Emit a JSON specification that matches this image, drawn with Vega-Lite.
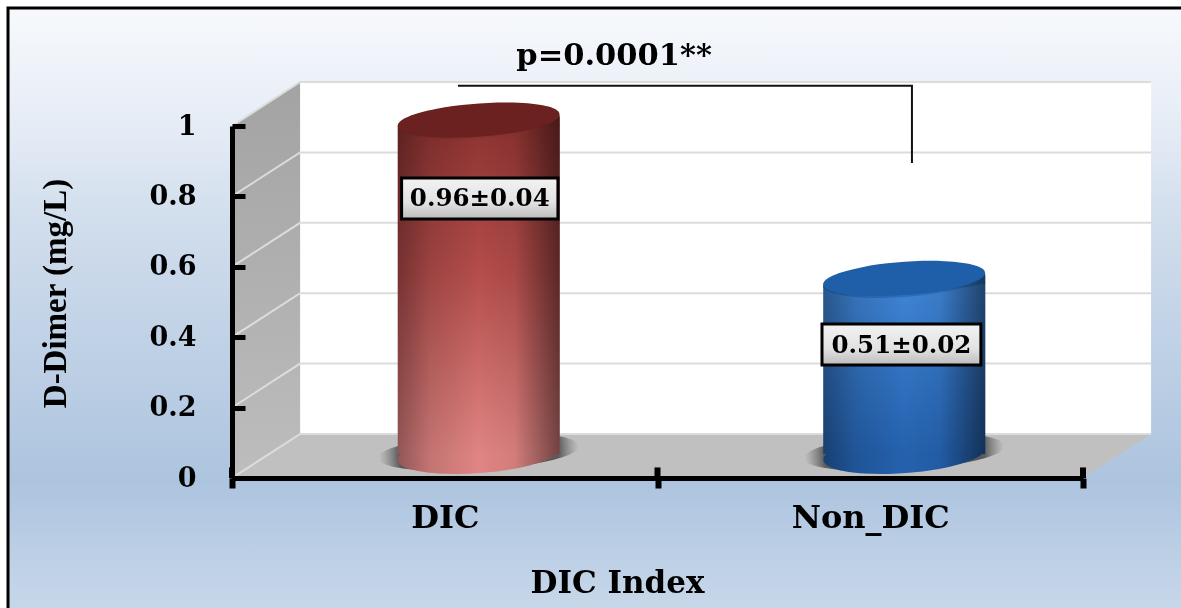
{
  "$schema": "https://vega.github.io/schema/vega-lite/v6.json",
  "width": 851,
  "height": 352,
  "autosize": "none",
  "padding": {"left": 232, "top": 126, "right": 98, "bottom": 130},
  "background": "white",
  "config": {"view": {"stroke": null}, "text": {"font": "DejaVu Serif", "fontWeight": "bold", "color": "black"}},
  "datasets": {
    "bars": [
      {"group": "DIC", "value": 0.96, "label": "0.96±0.04"},
      {"group": "Non_DIC", "value": 0.51, "label": "0.51±0.02"}
    ],
    "sideWall": [
      {"pos": 0, "low": 0, "high": 1},
      {"pos": 0.16, "low": 0.125, "high": 1.125}
    ],
    "floor": [
      {"pos": 0, "low": 0, "high": 0},
      {"pos": 0.16, "low": 0, "high": 0.125},
      {"pos": 2, "low": 0, "high": 0.125},
      {"pos": 2.16, "low": 0.125, "high": 0.125}
    ],
    "grid": [
      {"level": 0, "pos": 0, "y": 0}, {"level": 0, "pos": 0.16, "y": 0.125}, {"level": 0, "pos": 2.16, "y": 0.125},
      {"level": 0.2, "pos": 0, "y": 0.2}, {"level": 0.2, "pos": 0.16, "y": 0.325}, {"level": 0.2, "pos": 2.16, "y": 0.325},
      {"level": 0.4, "pos": 0, "y": 0.4}, {"level": 0.4, "pos": 0.16, "y": 0.525}, {"level": 0.4, "pos": 2.16, "y": 0.525},
      {"level": 0.6, "pos": 0, "y": 0.6}, {"level": 0.6, "pos": 0.16, "y": 0.725}, {"level": 0.6, "pos": 2.16, "y": 0.725},
      {"level": 0.8, "pos": 0, "y": 0.8}, {"level": 0.8, "pos": 0.16, "y": 0.925}, {"level": 0.8, "pos": 2.16, "y": 0.925},
      {"level": 1, "pos": 0, "y": 1}, {"level": 1, "pos": 0.16, "y": 1.125}, {"level": 1, "pos": 2.16, "y": 1.125}
    ],
    "bracket": [
      {"pos": 0.531, "y": 1.114},
      {"pos": 1.598, "y": 1.114},
      {"pos": 1.598, "y": 0.895}
    ],
    "crossTicks": [{"pos": 0}, {"pos": 1}, {"pos": 2}]
  },
  "resolve": {"scale": {"x": "independent", "color": "independent"}, "axis": {"y": "independent"}},
  "layer": [
    {
      "description": "Chart-area panel with its frame",
      "data": {"values": [{}]},
      "mark": {"type": "rect", "stroke": "black", "strokeWidth": 3, "fill": {"gradient": "linear", "x1": 0, "y1": 0, "x2": 0, "y2": 1, "stops": [
        {"offset": 0, "color": "#f7f9fc"}, {"offset": 0.17, "color": "#e8eef7"}, {"offset": 0.36, "color": "#d0ddec"}, {"offset": 0.78, "color": "#adc4df"}, {"offset": 1, "color": "#c8d8ea"}
      ]}},
      "encoding": {
        "x": {"datum": -0.5264, "type": "quantitative", "scale": {"domain": [0, 2], "nice": false, "zero": false}, "axis": null},
        "x2": {"datum": 2.26},
        "y": {"datum": 1.335, "type": "quantitative", "scale": {"domain": [0, 1], "nice": false, "zero": false}, "axis": null},
        "y2": {"datum": -0.385}
      }
    },
    {
      "description": "Back wall",
      "data": {"values": [{}]},
      "mark": {"type": "rect", "fill": "white"},
      "encoding": {
        "x": {"datum": 0.16, "type": "quantitative", "scale": {"domain": [0, 2], "nice": false, "zero": false}, "axis": null},
        "x2": {"datum": 2.16},
        "y": {"datum": 0.125, "type": "quantitative", "axis": null},
        "y2": {"datum": 1.125}
      }
    },
    {
      "description": "Side wall",
      "data": {"name": "sideWall"},
      "mark": {"type": "area", "fill": {"gradient": "linear", "x1": 0, "y1": 0, "x2": 0, "y2": 1, "stops": [{"offset": 0, "color": "#a3a3a3"}, {"offset": 1, "color": "#bdbdbd"}]}},
      "encoding": {
        "x": {"field": "pos", "type": "quantitative", "scale": {"domain": [0, 2], "nice": false, "zero": false}, "axis": null},
        "y": {"field": "low", "type": "quantitative", "axis": null},
        "y2": {"field": "high"}
      }
    },
    {
      "description": "Floor",
      "data": {"name": "floor"},
      "mark": {"type": "area", "fill": "#c0c0c0"},
      "encoding": {
        "x": {"field": "pos", "type": "quantitative", "scale": {"domain": [0, 2], "nice": false, "zero": false}, "axis": null},
        "y": {"field": "low", "type": "quantitative", "axis": null},
        "y2": {"field": "high"}
      }
    },
    {
      "description": "Gridlines running across both walls",
      "data": {"name": "grid"},
      "mark": {"type": "line", "stroke": "#dcdcdc", "strokeWidth": 2},
      "encoding": {
        "x": {"field": "pos", "type": "quantitative", "scale": {"domain": [0, 2], "nice": false, "zero": false}, "axis": null},
        "y": {"field": "y", "type": "quantitative", "axis": null},
        "detail": {"field": "level"}
      }
    },
    {
      "description": "Soft cast shadows on the floor; this layer also owns the category axis",
      "data": {"name": "bars"},
      "mark": {"type": "point", "filled": true, "opacity": 1, "xOffset": 34, "yOffset": -26, "size": 40000,
        "shape": "M -0.997 0.06 A 1 0.17 -3.5 1 1 0.997 -0.06 A 1 0.17 -3.5 1 1 -0.997 0.06 Z",
        "fill": {"gradient": "radial", "x1": 0.5, "y1": 0.5, "r1": 0, "x2": 0.5, "y2": 0.5, "r2": 0.5, "stops": [{"offset": 0, "color": "#4d4d4d"}, {"offset": 0.8, "color": "#5a5a5a"}, {"offset": 1, "color": "rgba(120,120,120,0)"}]}},
      "encoding": {
        "x": {"field": "group", "type": "nominal", "sort": null,
          "scale": {"type": "band", "domain": ["DIC", "Non_DIC"], "paddingInner": 0, "paddingOuter": 0},
          "axis": {"title": "DIC Index", "titleX": 385, "titleY": 90, "titleFont": "DejaVu Serif", "titleFontWeight": "bold", "titleFontSize": 31, "titleColor": "black",
            "labelAngle": 0, "labelFont": "DejaVu Serif", "labelFontWeight": "bold", "labelFontSize": 32, "labelColor": "black", "labelPadding": 29, "labelBaseline": "middle",
            "domainColor": "black", "domainWidth": 5, "tickColor": "black", "tickWidth": 6, "tickSize": 10, "tickBand": "extent", "grid": false, "zindex": 2}},
        "y": {"datum": 0, "type": "quantitative", "axis": null}
      }
    },
    {
      "description": "Cylinder bases",
      "data": {"name": "bars"},
      "mark": {"type": "point", "filled": true, "opacity": 1, "xOffset": 34, "yOffset": -24, "size": 26244,
        "shape": "M -0.997 0.073 A 1 0.23 -4.2 1 1 0.997 -0.073 A 1 0.23 -4.2 1 1 -0.997 0.073 Z"},
      "encoding": {
        "x": {"field": "group", "type": "nominal", "sort": null, "scale": {"type": "band", "domain": ["DIC", "Non_DIC"], "paddingInner": 0, "paddingOuter": 0}, "axis": null},
        "y": {"datum": 0, "type": "quantitative", "axis": null},
        "color": {"field": "group", "type": "nominal", "scale": {"domain": ["DIC", "Non_DIC"], "range": ["#e08583", "#2461ae"]}, "legend": null}
      }
    },
    {
      "description": "Rounded side shading on the bases",
      "data": {"name": "bars"},
      "mark": {"type": "point", "filled": true, "opacity": 1, "blend": "multiply", "xOffset": 34, "yOffset": -24, "size": 26244,
        "shape": "M -0.997 0.073 A 1 0.23 -4.2 1 1 0.997 -0.073 A 1 0.23 -4.2 1 1 -0.997 0.073 Z",
        "fill": {"gradient": "linear", "x1": 0, "y1": 0, "x2": 1, "y2": 0, "stops": [{"offset": 0, "color": "#a6a6a6"}, {"offset": 0.2, "color": "#dedede"}, {"offset": 0.5, "color": "#ffffff"}, {"offset": 0.72, "color": "#f0f0f0"}, {"offset": 1, "color": "#808080"}]}},
      "encoding": {
        "x": {"field": "group", "type": "nominal", "sort": null, "scale": {"type": "band", "domain": ["DIC", "Non_DIC"], "paddingInner": 0, "paddingOuter": 0}, "axis": null},
        "y": {"datum": 0, "type": "quantitative", "axis": null}
      }
    },
    {
      "description": "DIC cylinder body; this layer also owns the value axis",
      "data": {"name": "bars"},
      "transform": [{"filter": "datum.group === 'DIC'"}],
      "mark": {"type": "bar", "width": 162, "xOffset": 34, "yOffset": -15, "y2Offset": -24,
        "fill": {"gradient": "linear", "x1": 0, "y1": 0, "x2": 0, "y2": 1, "stops": [{"offset": 0, "color": "#8e3331"}, {"offset": 0.45, "color": "#b44d4b"}, {"offset": 1, "color": "#e08583"}]}},
      "encoding": {
        "x": {"field": "group", "type": "nominal", "sort": null, "scale": {"type": "band", "domain": ["DIC", "Non_DIC"], "paddingInner": 0, "paddingOuter": 0}, "axis": null},
        "y": {"field": "value", "type": "quantitative",
          "axis": {"title": "D-Dimer (mg/L)", "titleX": -160, "titleY": 167, "titleFont": "Liberation Serif", "titleFontWeight": "bold", "titleFontSize": 33, "titleColor": "black",
            "values": [0, 0.2, 0.4, 0.6, 0.8, 1], "format": "~g", "labelFont": "DejaVu Serif", "labelFontWeight": "bold", "labelFontSize": 27, "labelColor": "black", "labelPadding": 49,
            "domainColor": "black", "domainWidth": 5, "tickColor": "black", "tickWidth": 5, "tickSize": -13, "grid": false, "zindex": 2}},
        "y2": {"datum": 0}
      }
    },
    {
      "description": "Non_DIC cylinder body",
      "data": {"name": "bars"},
      "transform": [{"filter": "datum.group === 'Non_DIC'"}],
      "mark": {"type": "bar", "width": 162, "xOffset": 34, "yOffset": -15, "y2Offset": -24,
        "fill": {"gradient": "linear", "x1": 0, "y1": 0, "x2": 0, "y2": 1, "stops": [{"offset": 0, "color": "#3f85d6"}, {"offset": 1, "color": "#2461ae"}]}},
      "encoding": {
        "x": {"field": "group", "type": "nominal", "sort": null, "scale": {"type": "band", "domain": ["DIC", "Non_DIC"], "paddingInner": 0, "paddingOuter": 0}, "axis": null},
        "y": {"field": "value", "type": "quantitative", "axis": null},
        "y2": {"datum": 0}
      }
    },
    {
      "description": "Rounded side shading on the bodies",
      "data": {"name": "bars"},
      "mark": {"type": "bar", "width": 162, "xOffset": 34, "yOffset": -15, "y2Offset": -24, "blend": "multiply",
        "fill": {"gradient": "linear", "x1": 0, "y1": 0, "x2": 1, "y2": 0, "stops": [{"offset": 0, "color": "#a6a6a6"}, {"offset": 0.2, "color": "#dedede"}, {"offset": 0.5, "color": "#ffffff"}, {"offset": 0.72, "color": "#f0f0f0"}, {"offset": 1, "color": "#808080"}]}},
      "encoding": {
        "x": {"field": "group", "type": "nominal", "sort": null, "scale": {"type": "band", "domain": ["DIC", "Non_DIC"], "paddingInner": 0, "paddingOuter": 0}, "axis": null},
        "y": {"field": "value", "type": "quantitative", "axis": null},
        "y2": {"datum": 0}
      }
    },
    {
      "description": "Bevel under the cylinder tops, reaching out to the raised right shoulder",
      "data": {"name": "bars"},
      "mark": {"type": "point", "filled": true, "opacity": 1, "xOffset": 34, "yOffset": -17, "size": 26244,
        "shape": "M -0.997 0.073 A 1 0.21 -4.2 1 1 0.997 -0.073 L 1 -0.111 L 1 0.03 L 0.7 0.08 A 1 0.21 -4.2 0 1 -0.997 0.073 Z"},
      "encoding": {
        "x": {"field": "group", "type": "nominal", "sort": null, "scale": {"type": "band", "domain": ["DIC", "Non_DIC"], "paddingInner": 0, "paddingOuter": 0}, "axis": null},
        "y": {"field": "value", "type": "quantitative", "axis": null},
        "color": {"field": "group", "type": "nominal", "scale": {"domain": ["DIC", "Non_DIC"], "range": ["#8a3331", "#2c6fbc"]}, "legend": null}
      }
    },
    {
      "description": "Side shading on the bevel",
      "data": {"name": "bars"},
      "mark": {"type": "point", "filled": true, "opacity": 1, "blend": "multiply", "xOffset": 34, "yOffset": -17, "size": 26244,
        "shape": "M -0.997 0.073 A 1 0.21 -4.2 1 1 0.997 -0.073 L 1 -0.111 L 1 0.03 L 0.7 0.08 A 1 0.21 -4.2 0 1 -0.997 0.073 Z",
        "fill": {"gradient": "linear", "x1": 0, "y1": 0, "x2": 1, "y2": 0, "stops": [{"offset": 0, "color": "#a6a6a6"}, {"offset": 0.2, "color": "#dedede"}, {"offset": 0.5, "color": "#ffffff"}, {"offset": 0.72, "color": "#f0f0f0"}, {"offset": 1, "color": "#808080"}]}},
      "encoding": {
        "x": {"field": "group", "type": "nominal", "sort": null, "scale": {"type": "band", "domain": ["DIC", "Non_DIC"], "paddingInner": 0, "paddingOuter": 0}, "axis": null},
        "y": {"field": "value", "type": "quantitative", "axis": null}
      }
    },
    {
      "description": "Cylinder tops",
      "data": {"name": "bars"},
      "mark": {"type": "point", "filled": true, "opacity": 1, "xOffset": 34, "yOffset": -20, "size": 26244,
        "shape": "M -0.997 0.073 A 1 0.2 -4.2 1 1 0.997 -0.073 A 1 0.2 -4.2 1 1 -0.997 0.073 Z"},
      "encoding": {
        "x": {"field": "group", "type": "nominal", "sort": null, "scale": {"type": "band", "domain": ["DIC", "Non_DIC"], "paddingInner": 0, "paddingOuter": 0}, "axis": null},
        "y": {"field": "value", "type": "quantitative", "axis": null},
        "color": {"field": "group", "type": "nominal", "scale": {"domain": ["DIC", "Non_DIC"], "range": ["#6a2120", "#1f5ea8"]}, "legend": null}
      }
    },
    {
      "description": "Significance bracket between the groups",
      "data": {"name": "bracket"},
      "mark": {"type": "line", "stroke": "#111111", "strokeWidth": 2},
      "encoding": {
        "x": {"field": "pos", "type": "quantitative", "scale": {"domain": [0, 2], "nice": false, "zero": false}, "axis": null},
        "y": {"field": "y", "type": "quantitative", "axis": null},
        "order": {"field": "y", "sort": "descending"}
      }
    },
    {
      "description": "Significance text",
      "data": {"values": [{"note": "p=0.0001**"}]},
      "mark": {"type": "text", "fontSize": 30.5, "align": "center", "baseline": "middle"},
      "encoding": {
        "x": {"datum": 0.898, "type": "quantitative", "scale": {"domain": [0, 2], "nice": false, "zero": false}, "axis": null},
        "y": {"datum": 1.2, "type": "quantitative", "axis": null},
        "text": {"field": "note"}
      }
    },
    {
      "description": "Upper half of the category-axis ticks",
      "data": {"name": "crossTicks"},
      "mark": {"type": "rule", "stroke": "black", "strokeWidth": 6},
      "encoding": {
        "x": {"field": "pos", "type": "quantitative", "scale": {"domain": [0, 2], "nice": false, "zero": false}, "axis": null},
        "y": {"datum": 0, "type": "quantitative", "axis": null},
        "y2": {"datum": 0.03}
      }
    },
    {
      "description": "Value box for DIC",
      "data": {"values": [{}]},
      "mark": {"type": "rect", "stroke": "black", "strokeWidth": 3, "fill": {"gradient": "linear", "x1": 0, "y1": 0, "x2": 0, "y2": 1, "stops": [{"offset": 0, "color": "#f2f2f2"}, {"offset": 0.6, "color": "#e2e2e2"}, {"offset": 1, "color": "#bcbcbc"}]}},
      "encoding": {
        "x": {"datum": 0.3986, "type": "quantitative", "scale": {"domain": [0, 2], "nice": false, "zero": false}, "axis": null},
        "x2": {"datum": 0.766},
        "y": {"datum": 0.852, "type": "quantitative", "axis": null},
        "y2": {"datum": 0.736}
      }
    },
    {
      "description": "Value box for Non_DIC",
      "data": {"values": [{}]},
      "mark": {"type": "rect", "stroke": "black", "strokeWidth": 3, "fill": {"gradient": "linear", "x1": 0, "y1": 0, "x2": 0, "y2": 1, "stops": [{"offset": 0, "color": "#f2f2f2"}, {"offset": 0.6, "color": "#e2e2e2"}, {"offset": 1, "color": "#bcbcbc"}]}},
      "encoding": {
        "x": {"datum": 1.3866, "type": "quantitative", "scale": {"domain": [0, 2], "nice": false, "zero": false}, "axis": null},
        "x2": {"datum": 1.76},
        "y": {"datum": 0.4375, "type": "quantitative", "axis": null},
        "y2": {"datum": 0.321}
      }
    },
    {
      "description": "DIC value label",
      "data": {"name": "bars"},
      "transform": [{"filter": "datum.group === 'DIC'"}],
      "mark": {"type": "text", "fontSize": 24.5, "align": "center", "baseline": "middle"},
      "encoding": {
        "x": {"datum": 0.5823, "type": "quantitative", "scale": {"domain": [0, 2], "nice": false, "zero": false}, "axis": null},
        "y": {"datum": 0.794, "type": "quantitative", "axis": null},
        "text": {"field": "label"}
      }
    },
    {
      "description": "Non_DIC value label",
      "data": {"name": "bars"},
      "transform": [{"filter": "datum.group === 'Non_DIC'"}],
      "mark": {"type": "text", "fontSize": 24.5, "align": "center", "baseline": "middle"},
      "encoding": {
        "x": {"datum": 1.5733, "type": "quantitative", "scale": {"domain": [0, 2], "nice": false, "zero": false}, "axis": null},
        "y": {"datum": 0.374, "type": "quantitative", "axis": null},
        "text": {"field": "label"}
      }
    }
  ]
}
